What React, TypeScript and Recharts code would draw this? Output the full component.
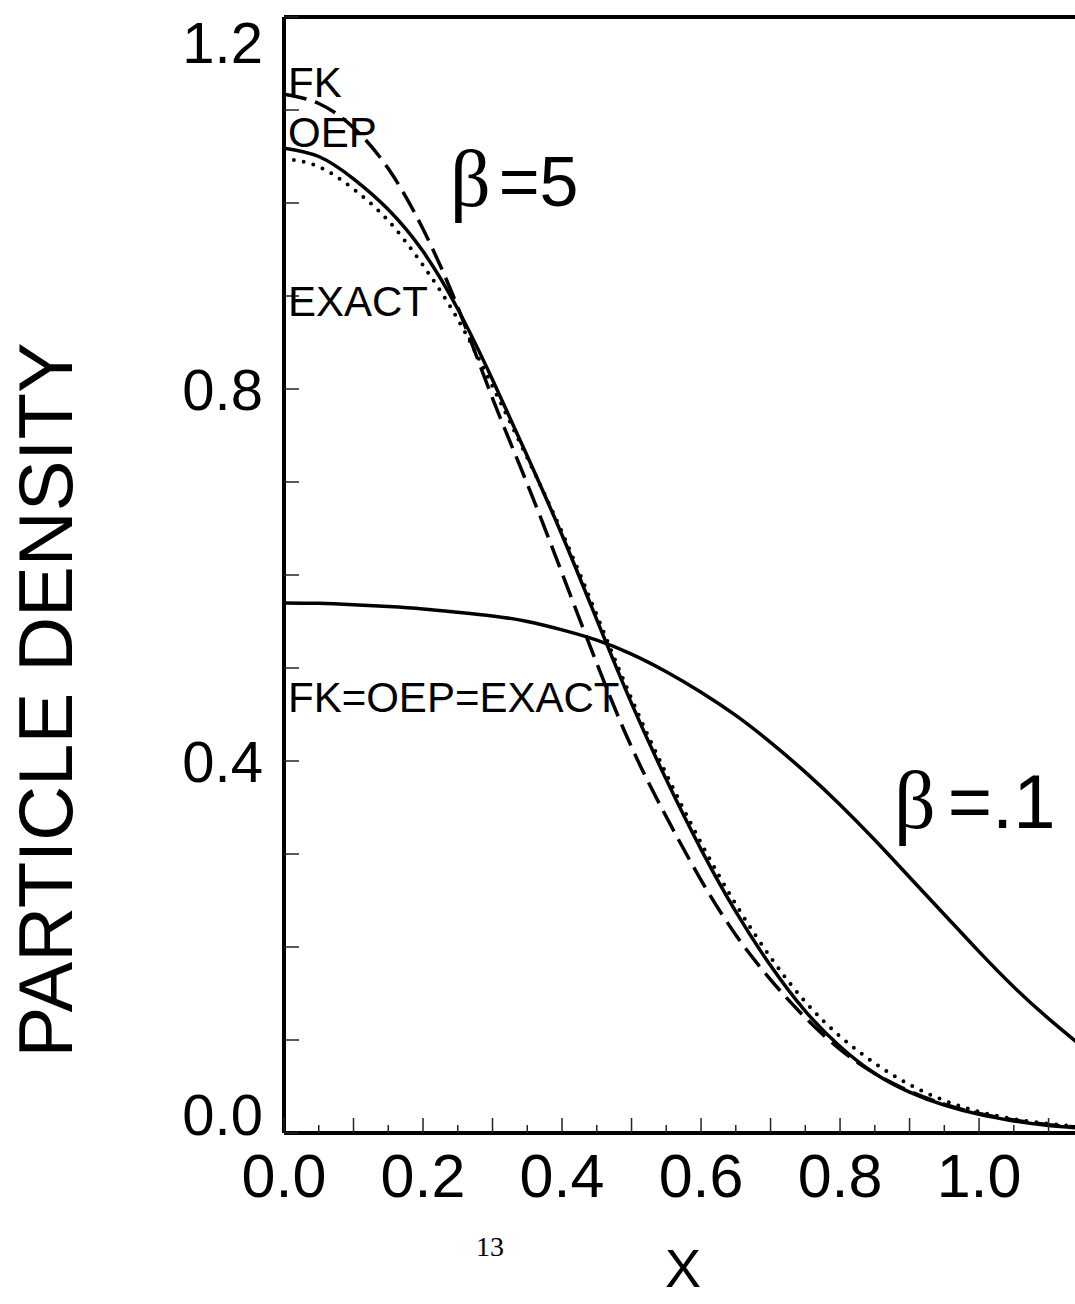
import { Line, LineChart, ReferenceLine, XAxis, YAxis } from 'recharts';

// x positions (fraction of the box)
const xs = [
  0, 0.05, 0.1, 0.15, 0.2, 0.25, 0.3, 0.35, 0.4, 0.45, 0.5, 0.55, 0.6, 0.65, 0.7, 0.75, 0.8, 0.85, 0.9,
  0.95, 1.0, 1.05, 1.1, 1.15,
];

// beta = .1 : FK = OEP = EXACT
const beta01 = [
  0.57, 0.5695, 0.568, 0.566, 0.5635, 0.56, 0.556, 0.55, 0.541, 0.53, 0.515, 0.496, 0.474, 0.449, 0.42,
  0.388, 0.353, 0.315, 0.275, 0.235, 0.195, 0.157, 0.123, 0.092,
];

// beta = 5
const beta5Oep = [
  1.059, 1.05, 1.026, 0.993, 0.948, 0.886, 0.81, 0.728, 0.643, 0.552, 0.462, 0.38, 0.305, 0.238, 0.18,
  0.131, 0.093, 0.064, 0.044, 0.03, 0.02, 0.013, 0.008, 0.005,
];
const beta5Exact = [
  1.048, 1.039, 1.015, 0.981, 0.933, 0.875, 0.803, 0.726, 0.646, 0.557, 0.467, 0.386, 0.312, 0.246, 0.189,
  0.141, 0.104, 0.075, 0.052, 0.035, 0.023, 0.015, 0.01, 0.006,
];
const beta5Fk = [
  1.117, 1.107, 1.081, 1.037, 0.972, 0.888, 0.79, 0.698, 0.602, 0.505, 0.415, 0.34, 0.272, 0.213, 0.165,
  0.124, 0.09, 0.064, 0.045, 0.031, 0.021, 0.014, 0.009, 0.006,
];

const xTicks = xs;
const yTicks = [0, 0.1, 0.2, 0.3, 0.4, 0.5, 0.6, 0.7, 0.8, 0.9, 1.0, 1.1, 1.2];

const data = xs.map((x, i) => ({
  x,
  b01: beta01[i],
  oep: beta5Oep[i],
  exact: beta5Exact[i],
  fk: beta5Fk[i],
}));

const SANS = '"Liberation Sans", Arial, Helvetica, sans-serif';
const SERIF = '"Liberation Serif", "Times New Roman", serif';

const YTick = (props: any) => {
  const { x, y, payload } = props;
  const v = payload.value as number;
  const k = Math.round(v * 10);
  let dy = 21;
  if (k === 0) dy = 2;
  if (k === 12) dy = 46;
  return (
    <g>
      <line x1={x} x2={x + 15} y1={y} y2={y} stroke="#222" strokeWidth={1.5} />
      {k % 4 === 0 && (
        <text x={x - 21} y={y + dy} textAnchor="end" fontFamily={SANS} fontSize={58} fill="#000">
          {v.toFixed(1)}
        </text>
      )}
    </g>
  );
};

const XTick = (props: any) => {
  const { x, y, payload } = props;
  const v = payload.value as number;
  const k = Math.round(v * 100);
  const major = k % 10 === 0;
  return (
    <g>
      <line x1={x} x2={x} y1={y} y2={y - (major ? 15 : 8)} stroke="#222" strokeWidth={1.5} />
      {k % 20 === 0 && k <= 100 && (
        <text x={x} y={y + 64} textAnchor="middle" fontFamily={SANS} fontSize={61} fill="#000">
          {v.toFixed(1)}
        </text>
      )}
    </g>
  );
};

export default function App() {
  return (
    <div
      style={{
        position: 'absolute',
        left: 0,
        top: 0,
        width: 1075,
        height: 1304,
        overflow: 'hidden',
        background: '#fff',
      }}
    >
      <LineChart width={1100} height={1304} data={data} margin={{ top: 17, right: 0, bottom: 0, left: 0 }}>
        <XAxis
          dataKey="x"
          type="number"
          domain={[0, 1.174]}
          ticks={xTicks}
          interval={0}
          allowDataOverflow
          height={171}
          tickSize={0}
          tickMargin={0}
          tick={<XTick />}
          axisLine={{ stroke: '#000', strokeWidth: 4 }}
          tickLine={false}
        />
        <YAxis
          type="number"
          domain={[0, 1.2]}
          ticks={yTicks}
          interval={0}
          width={284}
          tickSize={0}
          tickMargin={0}
          tick={<YTick />}
          axisLine={{ stroke: '#000', strokeWidth: 4 }}
          tickLine={false}
        />
        <ReferenceLine y={1.2} stroke="#000" strokeWidth={4} />
        <Line
          dataKey="b01"
          type="natural"
          stroke="#000"
          strokeWidth={3.5}
          dot={false}
          isAnimationActive={false}
        />
        <Line
          dataKey="oep"
          type="natural"
          stroke="#000"
          strokeWidth={3.5}
          dot={false}
          isAnimationActive={false}
        />
        <Line
          dataKey="exact"
          type="natural"
          stroke="#000"
          strokeWidth={4}
          strokeDasharray="0 10"
          strokeLinecap="round"
          dot={false}
          isAnimationActive={false}
        />
        <Line
          dataKey="fk"
          type="natural"
          stroke="#000"
          strokeWidth={3.5}
          strokeDasharray="23 9"
          dot={false}
          isAnimationActive={false}
        />
      </LineChart>

      <svg
        width={1075}
        height={1304}
        style={{ position: 'absolute', left: 0, top: 0, pointerEvents: 'none' }}
      >
        <text x={288} y={97} fontFamily={SANS} fontSize={42} fill="#000">FK</text>
        <text x={288} y={147} fontFamily={SANS} fontSize={42} fill="#000">OEP</text>
        <text x={288} y={316} fontFamily={SANS} fontSize={42} fill="#000">EXACT</text>
        <text x={288} y={712} fontFamily={SANS} fontSize={42} fill="#000">FK=OEP=EXACT</text>

        <text x={450} y={206} fill="#000">
          <tspan fontFamily={SERIF} fontSize={80}>β</tspan>
          <tspan fontFamily={SANS} fontSize={70} dx={8}>=5</tspan>
        </text>
        <text x={894} y={828} fill="#000">
          <tspan fontFamily={SERIF} fontSize={82}>β</tspan>
          <tspan fontFamily={SANS} fontSize={76} dx={12}>=.1</tspan>
        </text>

        <text
          transform="translate(72, 700) rotate(-90)"
          textAnchor="middle"
          fontFamily={SANS}
          fontSize={76}
          fill="#000"
        >
          PARTICLE DENSITY
        </text>
        <text x={683} y={1287} textAnchor="middle" fontFamily={SANS} fontSize={54} fill="#000">
          X
        </text>
        <text x={490} y={1256} textAnchor="middle" fontFamily={SERIF} fontSize={28} fill="#000">
          13
        </text>
      </svg>
    </div>
  );
}
